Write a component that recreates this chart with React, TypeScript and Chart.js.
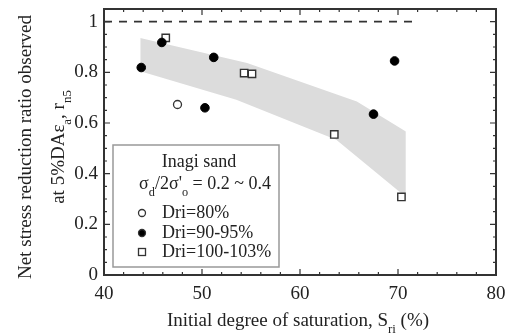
import React, { useEffect, useRef } from "react";
import { Chart, registerables } from "chart.js";

Chart.register(...registerables);

// ---- data ----
const xTickValues = [40, 50, 60, 70, 80];
const yTickValues = [0, 0.2, 0.4, 0.6, 0.8, 1];
const yTickLabels = ["0", "0.2", "0.4", "0.6", "0.8", "1"];

const dri80 = [{ x: 47.5, y: 0.673 }];
const dri90 = [
  { x: 43.8, y: 0.819 },
  { x: 45.9, y: 0.918 },
  { x: 51.2, y: 0.859 },
  { x: 50.3, y: 0.66 },
  { x: 67.5, y: 0.635 },
  { x: 69.65, y: 0.845 },
];
const dri100 = [
  { x: 46.3, y: 0.936 },
  { x: 54.3, y: 0.797 },
  { x: 55.1, y: 0.794 },
  { x: 63.5, y: 0.555 },
  { x: 70.35, y: 0.308 },
];
const bandUpper = [
  { x: 43.7, y: 0.936 },
  { x: 54.6, y: 0.837 },
  { x: 65.8, y: 0.685 },
  { x: 70.8, y: 0.566 },
];
const bandLower = [
  { x: 43.7, y: 0.804 },
  { x: 53.5, y: 0.692 },
  { x: 63.7, y: 0.534 },
  { x: 70.8, y: 0.308 },
];
const referenceLine = [
  { x: 40, y: 1 },
  { x: 72, y: 1 },
];

const FONT = "'Liberation Serif', 'Times New Roman', serif";
const INK = "#222";

type Seg = { t: string; sub?: boolean };

function richWidth(ctx: CanvasRenderingContext2D, segs: Seg[], size: number) {
  let w = 0;
  for (const s of segs) {
    ctx.font = `${s.sub ? size * 0.68 : size}px ${FONT}`;
    w += ctx.measureText(s.t).width;
  }
  return w;
}

function drawRich(
  ctx: CanvasRenderingContext2D,
  segs: Seg[],
  x: number,
  y: number,
  size: number,
  align: "left" | "center"
) {
  const w = richWidth(ctx, segs, size);
  let cx = align === "center" ? x - w / 2 : x;
  ctx.textAlign = "left";
  ctx.textBaseline = "alphabetic";
  for (const s of segs) {
    const fs = s.sub ? size * 0.68 : size;
    ctx.font = `${fs}px ${FONT}`;
    ctx.fillText(s.t, cx, s.sub ? y + size * 0.38 : y);
    cx += ctx.measureText(s.t).width;
  }
}

const decorPlugin = {
  id: "decor",
  afterDatasetsDraw(chart: any) {
    const ctx: CanvasRenderingContext2D = chart.ctx;
    const { left, right, top, bottom } = chart.chartArea;
    const xs = chart.scales.x;
    const ys = chart.scales.y;
    ctx.save();
    ctx.strokeStyle = "#333";
    ctx.fillStyle = INK;

    // ticks (inward, all four sides)
    ctx.lineWidth = 1.2;
    ctx.beginPath();
    for (let v = 40; v <= 80.001; v += 2) {
      const px = xs.getPixelForValue(v);
      const len = Math.abs(v % 10) < 0.01 ? 6 : 3;
      ctx.moveTo(px, bottom);
      ctx.lineTo(px, bottom - len);
      ctx.moveTo(px, top);
      ctx.lineTo(px, top + len);
    }
    for (let i = 0; i <= 21; i++) {
      const v = i * 0.05;
      const py = ys.getPixelForValue(v);
      const len = i % 4 === 0 ? 6 : 3;
      ctx.moveTo(left, py);
      ctx.lineTo(left + len, py);
      ctx.moveTo(right, py);
      ctx.lineTo(right - len, py);
    }
    ctx.stroke();

    // frame
    ctx.lineWidth = 2;
    ctx.strokeRect(left, top, right - left, bottom - top);

    // legend box
    const bx = 113, by = 145, bw = 166, bh = 122;
    ctx.fillStyle = "#fff";
    ctx.fillRect(bx, by, bw, bh);
    ctx.strokeStyle = "#999";
    ctx.lineWidth = 1.5;
    ctx.strokeRect(bx, by, bw, bh);
    ctx.fillStyle = INK;
    drawRich(ctx, [{ t: "Inagi sand" }], 199, 167, 18, "center");
    drawRich(
      ctx,
      [
        { t: "σ" },
        { t: "d", sub: true },
        { t: "/2σ'" },
        { t: "o", sub: true },
        { t: " = 0.2 ~ 0.4" },
      ],
      205,
      189,
      18,
      "center"
    );
    const rows = [
      { label: "Dri=80%", kind: "open", y: 218 },
      { label: "Dri=90-95%", kind: "filled", y: 238 },
      { label: "Dri=100-103%", kind: "square", y: 257 },
    ];
    for (const r of rows) {
      const my = r.y - 5;
      ctx.lineWidth = 1.3;
      ctx.strokeStyle = "#333";
      if (r.kind === "square") {
        ctx.fillStyle = "#fff";
        ctx.fillRect(138.5, my - 3.5, 7, 7);
        ctx.strokeRect(138.5, my - 3.5, 7, 7);
      } else {
        ctx.beginPath();
        ctx.arc(142, my, 3.5, 0, Math.PI * 2);
        ctx.fillStyle = r.kind === "filled" ? "#000" : "#fff";
        ctx.fill();
        ctx.stroke();
      }
      ctx.fillStyle = INK;
      drawRich(ctx, [{ t: r.label }], 162, r.y, 18, "left");
    }

    // x-axis title
    drawRich(
      ctx,
      [
        { t: "Initial degree of saturation, S" },
        { t: "ri", sub: true },
        { t: " (%)" },
      ],
      (left + right) / 2 - 2,
      326,
      19,
      "center"
    );

    // y-axis title (rotated)
    const cy = 147;
    ctx.save();
    ctx.translate(31, cy);
    ctx.rotate(-Math.PI / 2);
    drawRich(ctx, [{ t: "Net stress reduction ratio observed" }], 0, 0, 19, "center");
    ctx.restore();
    ctx.save();
    ctx.translate(64, cy);
    ctx.rotate(-Math.PI / 2);
    drawRich(
      ctx,
      [
        { t: "at 5%DAε" },
        { t: "a", sub: true },
        { t: ", r" },
        { t: "n5", sub: true },
      ],
      0,
      0,
      19,
      "center"
    );
    ctx.restore();

    ctx.restore();
  },
};

export default function App() {
  const ref = useRef<HTMLCanvasElement | null>(null);

  useEffect(() => {
    document.body.style.margin = "0";
    if (!ref.current) return;
    const chart = new Chart(ref.current, {
      type: "scatter",
      data: {
        datasets: [
          {
            label: "Dri=80%",
            data: dri80,
            order: 1,
            pointStyle: "circle",
            pointRadius: 4,
            borderWidth: 1.3,
            borderColor: "#333",
            backgroundColor: "#fff",
          },
          {
            label: "Dri=90-95%",
            data: dri90,
            order: 1,
            pointStyle: "circle",
            pointRadius: 4.3,
            borderWidth: 1,
            borderColor: "#000",
            backgroundColor: "#000",
          },
          {
            label: "Dri=100-103%",
            data: dri100,
            order: 1,
            pointStyle: "rect",
            pointRadius: 5.2,
            borderWidth: 1.4,
            borderColor: "#333",
            backgroundColor: "#fff",
          },
          {
            label: "ratio 1",
            data: referenceLine,
            order: 5,
            showLine: true,
            borderColor: "#333",
            borderWidth: 1.6,
            borderDash: [8, 7],
            pointRadius: 0,
            fill: false,
          } as any,
          {
            label: "band upper",
            data: bandUpper,
            order: 10,
            showLine: true,
            borderWidth: 0,
            borderColor: "rgba(0,0,0,0)",
            pointRadius: 0,
            backgroundColor: "#dcdcdc",
            fill: "+1",
            tension: 0,
          } as any,
          {
            label: "band lower",
            data: bandLower,
            order: 11,
            showLine: true,
            borderWidth: 0,
            borderColor: "rgba(0,0,0,0)",
            pointRadius: 0,
            fill: false,
            tension: 0,
          } as any,
        ],
      },
      options: {
        responsive: false,
        animation: false,
        layout: { padding: { top: 9, right: 14, left: 0, bottom: 0 } },
        plugins: {
          legend: { display: false },
          tooltip: { enabled: false },
        },
        scales: {
          x: {
            type: "linear",
            min: 40,
            max: 80,
            grid: { display: false, drawTicks: false },
            border: { display: false },
            ticks: {
              font: { family: FONT, size: 19 },
              color: INK,
              padding: 8,
              maxRotation: 0,
            },
            afterBuildTicks: (s: any) => {
              s.ticks = xTickValues.map((v) => ({ value: v }));
            },
            afterFit: (s: any) => {
              s.height = 58;
              s.paddingLeft = 0;
              s.paddingRight = 0;
            },
          },
          y: {
            type: "linear",
            min: 0,
            max: 1.05,
            grid: { display: false, drawTicks: false },
            border: { display: false },
            ticks: {
              font: { family: FONT, size: 19 },
              color: INK,
              padding: 6,
              callback: (v: any) => {
                const i = yTickValues.findIndex((t) => Math.abs(t - v) < 1e-6);
                return i >= 0 ? yTickLabels[i] : "";
              },
            },
            afterBuildTicks: (s: any) => {
              s.ticks = yTickValues.map((v) => ({ value: v }));
            },
            afterFit: (s: any) => {
              s.width = 104;
              s.paddingTop = 0;
              s.paddingBottom = 0;
            },
          },
        },
      },
      plugins: [decorPlugin],
    });
    return () => chart.destroy();
  }, []);

  return (
    <div style={{ width: 510, height: 333 }}>
      <canvas ref={ref} width={510} height={333} />
    </div>
  );
}
